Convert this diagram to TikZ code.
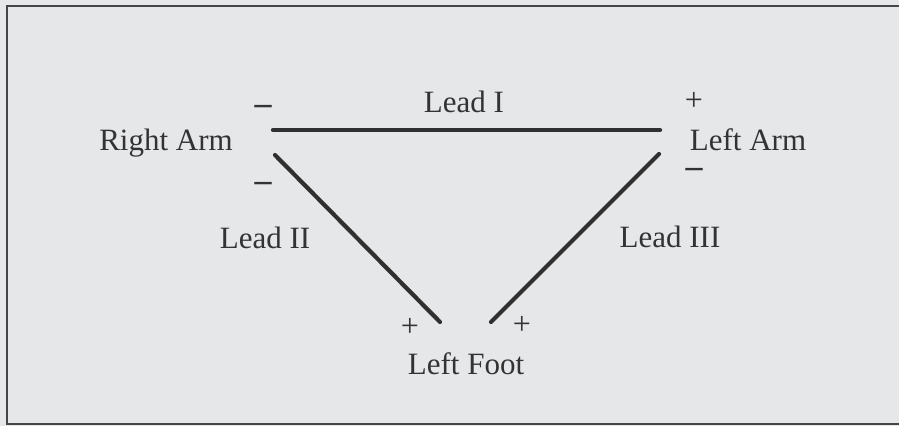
\documentclass[tikz,border=0pt]{standalone}
\usepackage{fontspec}
\setmainfont{Liberation Serif}
\definecolor{bg}{HTML}{E6E7E9}
\definecolor{ink}{HTML}{303030}
\definecolor{txt}{HTML}{333333}
\begin{document}
\begin{tikzpicture}[x=1pt,y=-1pt,
  lbl/.style={text=txt,font=\fontsize{31}{36}\selectfont,inner sep=0pt,anchor=center},
  sgn/.style={text=txt,font=\fontsize{32}{36}\selectfont,inner sep=0pt,anchor=center},
  neg/.style={text=txt,font=\fontsize{34}{36}\selectfont\bfseries,inner sep=0pt,anchor=center},
  lead/.style={draw=ink,line width=4.2pt,line cap=round}]
\fill[bg] (0,0) rectangle (899,426);
\useasboundingbox (0,0) rectangle (899,426);
\draw[draw=ink!90,line width=2pt] (899,6) -- (7,6) -- (7,424) -- (899,424);
% labels
\node[lbl] (ra) at (166,143) {Right Arm};
\node[lbl] (la) at (748,140) {Left Arm};
\node[lbl] (lf) at (466,364) {Left Foot};
\node[lbl] (l1) at (464,102) {Lead I};
\node[lbl] (l2) at (265,238) {Lead II};
\node[lbl] (l3) at (670,237) {Lead III};
% signs
\node[neg] (s1) at (263,110) {–};
\node[neg] (s2) at (263,187) {–};
\node[sgn] (s3) at (694,101) {+};
\node[neg] (s4) at (694,173) {–};
\node[sgn] (s5) at (410,327) {+};
\node[sgn] (s6) at (522,325) {+};
% lead endpoints
\coordinate (ra1) at (273,130);
\coordinate (la1) at (660,130);
\coordinate (ra2) at (275,155);
\coordinate (lf2) at (440,322);
\coordinate (la3) at (659,154);
\coordinate (lf3) at (491,322);
\draw[lead] (ra1) -- (la1);
\draw[lead] (ra2) -- (lf2);
\draw[lead] (la3) -- (lf3);
\end{tikzpicture}
\end{document}
